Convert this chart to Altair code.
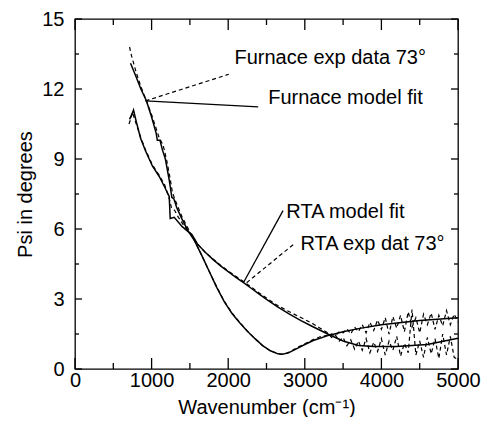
import altair as alt
import pandas as pd

W, H = 383, 350
FONT = "Liberation Sans"

# ---------------- data ----------------
furnace_fit_x = [725, 800, 860, 932, 1000, 1060, 1075, 1110, 1140, 1180, 1230, 1265, 1290, 1330,
                 1400, 1480, 1560, 1650, 1750, 1850, 1950, 2050, 2150, 2250, 2350, 2450, 2550,
                 2650, 2700, 2780, 2890, 3000, 3110, 3300, 3500, 3700, 4000, 4500, 5000]
furnace_fit_y = [13.1, 12.5, 12.0, 11.5, 10.8, 10.1, 9.8, 9.8, 9.4, 9.0, 8.1, 7.35, 7.3, 6.9,
                 6.4, 5.9, 5.5, 4.9, 4.2, 3.5, 2.88, 2.38, 1.98, 1.62, 1.3, 1.0, 0.78,
                 0.65, 0.63, 0.68, 0.86, 1.05, 1.22, 1.43, 1.6, 1.73, 1.9, 2.08, 2.2]

rta_fit_x = [712, 740, 764, 800, 855, 920, 1010, 1100, 1170, 1230, 1243, 1295, 1400, 1528,
             1600, 1700, 1800, 1900, 2000, 2100, 2200, 2300, 2400, 2500, 2650, 2800, 2950,
             3100, 3300, 3500, 3700, 3900, 4200, 4600, 5000]
rta_fit_y = [10.7, 10.9, 11.1, 10.6, 9.9, 9.35, 8.7, 8.25, 7.8, 7.4, 6.45, 6.5, 6.1, 5.75,
             5.35, 5.0, 4.7, 4.42, 4.17, 3.93, 3.7, 3.46, 3.22, 2.98, 2.65, 2.35, 2.07,
             1.82, 1.5, 1.2, 1.01, 0.96, 0.96, 1.05, 1.32]

furnace_exp_x = [712, 740, 800, 860, 932, 1000, 1060, 1100, 1150, 1200, 1240, 1270, 1300, 1350,
                 1400, 1480, 1560, 1650, 1750, 1850, 1950, 2050, 2150, 2250, 2350, 2450, 2550,
                 2650, 2700, 2780, 2890, 3000, 3110, 3200,
                 3300, 3350, 3400, 3450, 3500, 3550, 3600, 3650, 3700, 3750, 3800, 3850, 3900,
                 3950, 4000, 4050, 4100, 4150, 4200, 4250, 4300, 4350, 4400, 4450, 4500, 4550,
                 4600, 4650, 4700, 4750, 4800, 4850, 4900, 4950, 5000]
furnace_exp_y = [13.8, 13.4, 12.7, 12.1, 11.5, 10.9, 10.3, 9.9, 9.6, 8.9, 8.2, 7.6, 7.3, 6.9,
                 6.5, 6.0, 5.5, 4.9, 4.2, 3.52, 2.9, 2.4, 2.0, 1.63, 1.3, 1.0, 0.78,
                 0.66, 0.63, 0.7, 0.9, 1.08, 1.26, 1.38,
                 1.45, 1.5, 1.42, 1.6, 1.55, 1.72, 1.5, 1.8, 1.6, 1.9, 1.55, 2.0, 1.65,
                 2.1, 1.7, 2.2, 1.5, 2.25, 1.75, 2.3, 1.6, 2.45, 1.8, 2.2, 1.55, 2.35,
                 1.9, 2.4, 1.7, 2.3, 1.85, 2.5, 1.9, 2.35, 2.0]

rta_exp_x = [705, 725, 750, 770, 800, 855, 920, 1010, 1100, 1170, 1230, 1260, 1300, 1350,
             1430, 1530, 1600, 1700, 1800, 1900, 2000, 2200, 2400, 2630, 2800, 3000, 3100, 3200,
             3300, 3350, 3400, 3450, 3500, 3550, 3600, 3650, 3700, 3750, 3800, 3850, 3900,
             3950, 4000, 4050, 4100, 4150, 4200, 4250, 4300, 4350, 4400, 4450, 4500, 4550,
             4600, 4650, 4700, 4750, 4800, 4850, 4900, 4950, 5000]
rta_exp_y = [10.5, 10.7, 11.0, 10.8, 10.5, 9.95, 9.4, 8.75, 8.3, 7.9, 7.3, 6.9, 6.8, 6.5,
             6.1, 5.7, 5.35, 5.0, 4.72, 4.45, 4.2, 3.75, 3.27, 2.75, 2.45, 2.12, 1.95, 1.75,
             1.55, 1.35, 1.45, 1.2, 1.35, 1.0, 1.25, 0.85, 1.2, 0.8, 1.3, 0.7, 1.15,
             0.75, 1.3, 0.6, 1.2, 0.8, 1.4, 0.55, 1.1, 0.7, 2.55, 0.6, 1.2, 0.5,
             1.35, 0.65, 1.3, 0.45, 1.5, 0.6, 1.4, 0.5, 0.4]

# annotation texts and leader lines (data coordinates)
labels = ["Furnace exp data 73°", "Furnace model fit", "RTA model fit", "RTA exp dat 73°"]
label_x = [2082, 2522, 2759, 2944]
label_y = [13.09, 11.37, 6.48, 5.10]

lead_solid_x = [920, 2202]
lead_solid_y = [11.49, 3.72]
lead_solid_x2 = [2392, 2716]
lead_solid_y2 = [11.23, 6.79]
lead_dash_x = [920, 2241]
lead_dash_y = [11.49, 3.7]
lead_dash_x2 = [2008, 2867]
lead_dash_y2 = [12.63, 5.38]

x_major = [0, 1000, 2000, 3000, 4000, 5000]
x_minor = [500, 1500, 2500, 3500, 4500]
y_major = [0, 3, 6, 9, 12, 15]
y_minor = [1.5, 4.5, 7.5, 10.5, 13.5]

# ---------------- chart ----------------
common_axis = dict(ticks=False, domain=False, grid=False, labelFlush=False, labelOverlap=False,
                   format="d", labelFont=FONT, titleFont=FONT, labelFontSize=20,
                   titleFontSize=20, labelColor="black", titleColor="black",
                   titleFontWeight="normal")
xscale = alt.Scale(domain=[0, 5000], nice=False, zero=False)
yscale = alt.Scale(domain=[0, 15], nice=False, zero=False)
xaxis = alt.Axis(values=x_major, title="Wavenumber (cm⁻¹)", labelPadding=1, titlePadding=7,
                 **common_axis)
yaxis = alt.Axis(values=y_major, title="Psi in degrees", labelPadding=11, titlePadding=6,
                 **common_axis)

X = alt.X("x:Q", scale=xscale, axis=xaxis)
Y = alt.Y("y:Q", scale=yscale, axis=yaxis)


def series(xs, ys, dash=None, width=1.4):
    df = pd.DataFrame({"x": xs, "y": ys, "i": list(range(len(xs)))})
    if dash:
        m = alt.Chart(df).mark_line(color="black", strokeWidth=width, strokeDash=dash)
    else:
        m = alt.Chart(df).mark_line(color="black", strokeWidth=width)
    return m.encode(x=X, y=Y, order="i:Q")


layers = [
    series(furnace_fit_x, furnace_fit_y, width=1.5),
    series(rta_fit_x, rta_fit_y, width=1.5),
    series(furnace_exp_x, furnace_exp_y, dash=[4, 3], width=1.2),
    series(rta_exp_x, rta_exp_y, dash=[4, 3], width=1.2),
]

solid_df = pd.DataFrame({"x": lead_solid_x, "y": lead_solid_y, "x2": lead_solid_x2, "y2": lead_solid_y2})
dash_df = pd.DataFrame({"x": lead_dash_x, "y": lead_dash_y, "x2": lead_dash_x2, "y2": lead_dash_y2})
layers.append(alt.Chart(solid_df).mark_rule(color="black", strokeWidth=1.3).encode(
    x=X, y=Y, x2="x2:Q", y2="y2:Q"))
layers.append(alt.Chart(dash_df).mark_rule(color="black", strokeWidth=1.2, strokeDash=[4, 3]).encode(
    x=X, y=Y, x2="x2:Q", y2="y2:Q"))

text_df = pd.DataFrame({"x": label_x, "y": label_y, "t": labels})
layers.append(alt.Chart(text_df).mark_text(align="left", baseline="alphabetic", font=FONT,
                                           fontSize=20, color="black").encode(x=X, y=Y, text="t:N"))

# inward ticks on all four sides
xmaj = pd.DataFrame({"x": x_major})
xmin = pd.DataFrame({"x": x_minor})
ymaj = pd.DataFrame({"y": y_major})
ymin = pd.DataFrame({"y": y_minor})
tk = dict(color="black", strokeWidth=1.3)
layers += [
    alt.Chart(xmaj).mark_rule(**tk).encode(x=X, y=alt.value(H), y2=alt.value(H - 11)),
    alt.Chart(xmaj).mark_rule(**tk).encode(x=X, y=alt.value(0), y2=alt.value(11)),
    alt.Chart(xmin).mark_rule(**tk).encode(x=X, y=alt.value(H), y2=alt.value(H - 6)),
    alt.Chart(xmin).mark_rule(**tk).encode(x=X, y=alt.value(0), y2=alt.value(6)),
    alt.Chart(ymaj).mark_rule(**tk).encode(y=Y, x=alt.value(0), x2=alt.value(7)),
    alt.Chart(ymaj).mark_rule(**tk).encode(y=Y, x=alt.value(W), x2=alt.value(W - 7)),
    alt.Chart(ymin).mark_rule(**tk).encode(y=Y, x=alt.value(0), x2=alt.value(4)),
    alt.Chart(ymin).mark_rule(**tk).encode(y=Y, x=alt.value(W), x2=alt.value(W - 4)),
]

chart = alt.layer(*layers).properties(
    width=W, height=H, autosize="none", background="white",
    padding={"left": 67, "top": 11, "right": 23, "bottom": 48},
).configure_view(stroke="black", strokeWidth=1.3)

chart.save("out.html", embed_options={"renderer": "svg", "actions": False})
